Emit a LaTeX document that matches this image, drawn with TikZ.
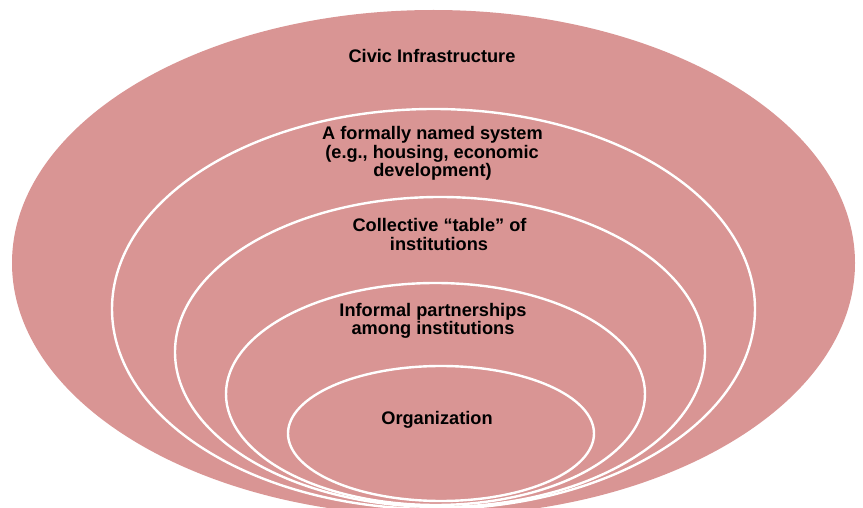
\documentclass[tikz,border=0pt]{standalone}
\usepackage{fontspec}
\setmainfont{Liberation Sans}
\definecolor{ringfill}{RGB}{217,149,148}
\begin{document}
\begin{tikzpicture}[x=1pt,y=-1pt,
  ringline/.style={draw=white,line width=2.4pt},
  label/.style={font=\fontsize{18.2}{18.6}\selectfont\bfseries,align=center,anchor=base,inner sep=0pt,text=black}]
\useasboundingbox (0,0) rectangle (863,508);
\clip (0,0) rectangle (863,508);
\fill[ringfill] (433.5,263) ellipse [x radius=421.5pt, y radius=253pt];
\draw[ringline] (433.5,309) ellipse [x radius=321.5pt, y radius=200pt];
\draw[ringline] (440,352) ellipse [x radius=265pt, y radius=155pt];
\draw[ringline] (435.5,394) ellipse [x radius=209.5pt, y radius=111pt];
\draw[ringline] (441,433.5) ellipse [x radius=153pt, y radius=67.5pt];
\node[label] (civic) at (432,63) {Civic Infrastructure};
\node[label] (formal1) at (432.5,140) {A formally named system};
\node[label] (formal2) at (432,158.5) {(e.g., housing, economic};
\node[label] (formal3) at (432.5,177) {development)};
\node[label] (coll1) at (439.5,232) {Collective “table” of};
\node[label] (coll2) at (439,250.5) {institutions};
\node[label] (inf1) at (433,316) {Informal partnerships};
\node[label] (inf2) at (433,334.5) {among institutions};
\node[label] (org) at (437,424) {Organization};
\end{tikzpicture}
\end{document}
